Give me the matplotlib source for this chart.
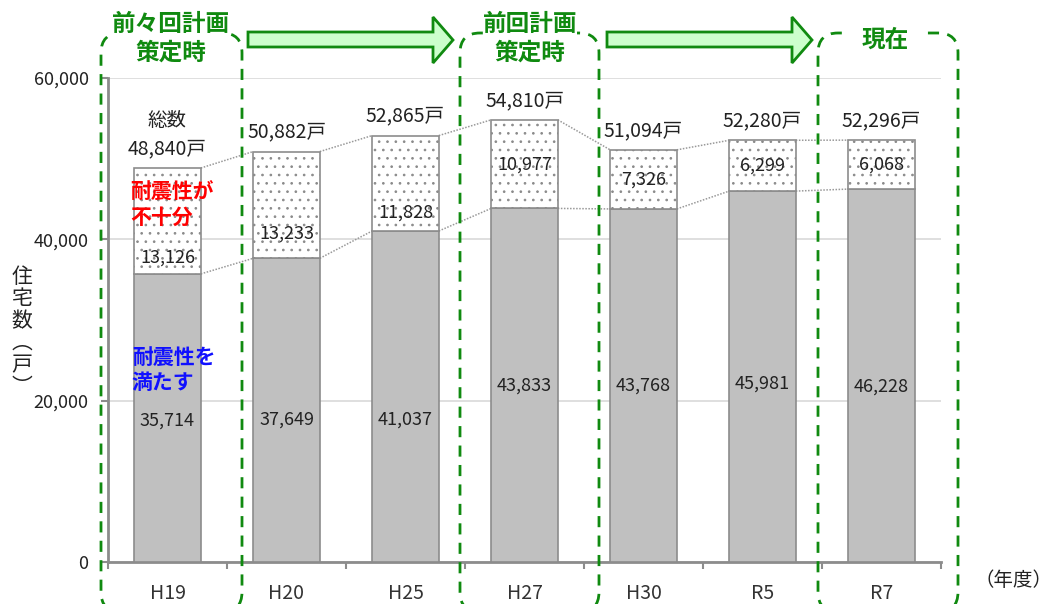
import numpy as np
import matplotlib
matplotlib.use("Agg")
import matplotlib.pyplot as plt
from matplotlib.patches import FancyBboxPatch, Polygon

plt.rcParams['font.family'] = ['Noto Sans CJK JP', 'DejaVu Sans']
plt.rcParams['hatch.linewidth'] = 0.7

# data
years = ['H19', 'H20', 'H25', 'H27', 'H30', 'R5', 'R7']
meets = [35714, 37649, 41037, 43833, 43768, 45981, 46228]
insufficient = [13126, 13233, 11828, 10977, 7326, 6299, 6068]
totals = [48840, 50882, 52865, 54810, 51094, 52280, 52296]

# where the in-bar labels sit (fraction of each segment)
bot_frac = [0.49, 0.47, 0.43, 0.5, 0.5, 0.48, 0.47]
top_frac = [0.15, 0.23, 0.19, 0.5, 0.5, 0.5, 0.5]

W, H = 1052, 604
GREEN = '#108a10'
GRAY = '#8c8c8c'

fig = plt.figure(figsize=(W / 100, H / 100), dpi=100)
ax = fig.add_axes([108 / W, 42 / H, 833 / W, 484 / H])

x = np.arange(len(years))
bw = 0.56

ax.bar(x, meets, bw, color='#c0c0c0', edgecolor=GRAY, linewidth=1.2, zorder=3)
# dotted fill first, then the outline on top
ax.bar(x, insufficient, bw, bottom=meets, color='white', edgecolor='#8a8a8a',
       hatch='..', linewidth=0, zorder=3)
ax.bar(x, insufficient, bw, bottom=meets, fill=False, edgecolor=GRAY,
       linewidth=1.2, zorder=3)

# dotted connectors between bar tops
for i in range(len(years) - 1):
    for s in (meets, totals):
        ax.plot([x[i] + bw / 2, x[i + 1] - bw / 2], [s[i], s[i + 1]],
                color='#999999', lw=1.1, ls=(0, (1, 1)), zorder=2)

# labels
for i in range(len(years)):
    ax.text(x[i], meets[i] * bot_frac[i], f"{meets[i]:,}", ha='center', va='center',
            fontsize=13, color='#222222', zorder=5)
    ax.text(x[i], meets[i] + insufficient[i] * top_frac[i], f"{insufficient[i]:,}",
            ha='center', va='center', fontsize=13, color='#222222', zorder=5)
    ax.annotate(f"{totals[i]:,}戸", (x[i], totals[i]), xytext=(0, 14),
                textcoords='offset points', ha='center', va='center',
                fontsize=14, color='#222222')
ax.annotate("総数", (x[0], totals[0]), xytext=(0, 34), textcoords='offset points',
            ha='center', va='center', fontsize=14, color='#222222')

ax.text(-0.31, 44270, "耐震性が\n不十分", color='red', fontsize=15, fontweight='bold',
        ha='left', va='center', linespacing=1.25, zorder=6)
ax.text(-0.3, 23810, "耐震性を\n満たす", color='#1010ff', fontsize=15, fontweight='bold',
        ha='left', va='center', linespacing=1.25, zorder=6)

# axes styling
ax.set_xlim(-0.5, len(years) - 0.5)
ax.set_ylim(0, 60000)
ax.set_yticks([0, 20000, 40000, 60000], labels=['0', '20,000', '40,000', '60,000'])
ax.set_xticks(np.arange(-0.5, len(years), 1), labels=[''] * (len(years) + 1))
ax.set_xticks(x, labels=years, minor=True)
ax.tick_params(axis='x', which='major', length=5, width=1.5, color=GRAY, direction='out')
ax.tick_params(axis='x', which='minor', length=0, pad=15, labelsize=14, labelcolor='#333333')
ax.tick_params(axis='y', length=5, width=1.5, color=GRAY, pad=9, labelsize=13,
               labelcolor='#222222')
ax.grid(axis='y', color='#d9d9d9', lw=1.2, zorder=0)
for side in ('top', 'right'):
    ax.spines[side].set_visible(False)
for side in ('left', 'bottom'):
    ax.spines[side].set_color(GRAY)
    ax.spines[side].set_linewidth(2)

fig.text(22 / W, 1 - 332 / H, "住\n宅\n数\n︵\n戸\n︶", ha='center', va='center',
         fontsize=15, linespacing=1.0, color='#222222')
fig.text(1.0, 1 - 581 / H, "（年度）", ha='right', va='center', fontsize=14, color='#222222')

# decorations in pixel space (converted to inches)
tr = fig.dpi_scale_trans


def px(xp, yp):
    return (xp / 100, (H - yp) / 100)


for x0, x1 in [(101, 242), (460, 599), (818, 958)]:
    box = FancyBboxPatch(px(x0, 612), (x1 - x0) / 100, (612 - 33) / 100,
                         boxstyle='round,pad=0,rounding_size=0.2', transform=tr,
                         fill=False, edgecolor=GREEN, lw=2, ls=(0, (4, 3)), zorder=4)
    fig.add_artist(box)

for xs, xh, xt in [(248, 433, 453), (607, 792, 812)]:
    pts = [px(xs, 32), px(xh, 32), px(xh, 17), px(xt, 40), px(xh, 63), px(xh, 47), px(xs, 47)]
    fig.add_artist(Polygon(pts, closed=True, transform=tr, facecolor='#ccffcc',
                           edgecolor=GREEN, lw=2, zorder=4))

wb = dict(facecolor='white', edgecolor='none', pad=0)
for xc, lines in [(171, ["前々回計画", "策定時"]), (530, ["前回計画", "策定時"])]:
    fig.text(xc / W, 1 - 24 / H, lines[0], ha='center', va='center', fontsize=17,
             fontweight='bold', color=GREEN, bbox=wb, zorder=5)
    fig.text(xc / W, 1 - 53 / H, lines[1], ha='center', va='center', fontsize=17,
             fontweight='bold', color=GREEN, zorder=5)
fig.text(885 / W, 1 - 40 / H, "現在", ha='center', va='center', fontsize=17,
         fontweight='bold', color=GREEN, bbox=dict(facecolor='white', edgecolor='none', pad=8),
         zorder=5)

fig.savefig('out.png', dpi=100)
